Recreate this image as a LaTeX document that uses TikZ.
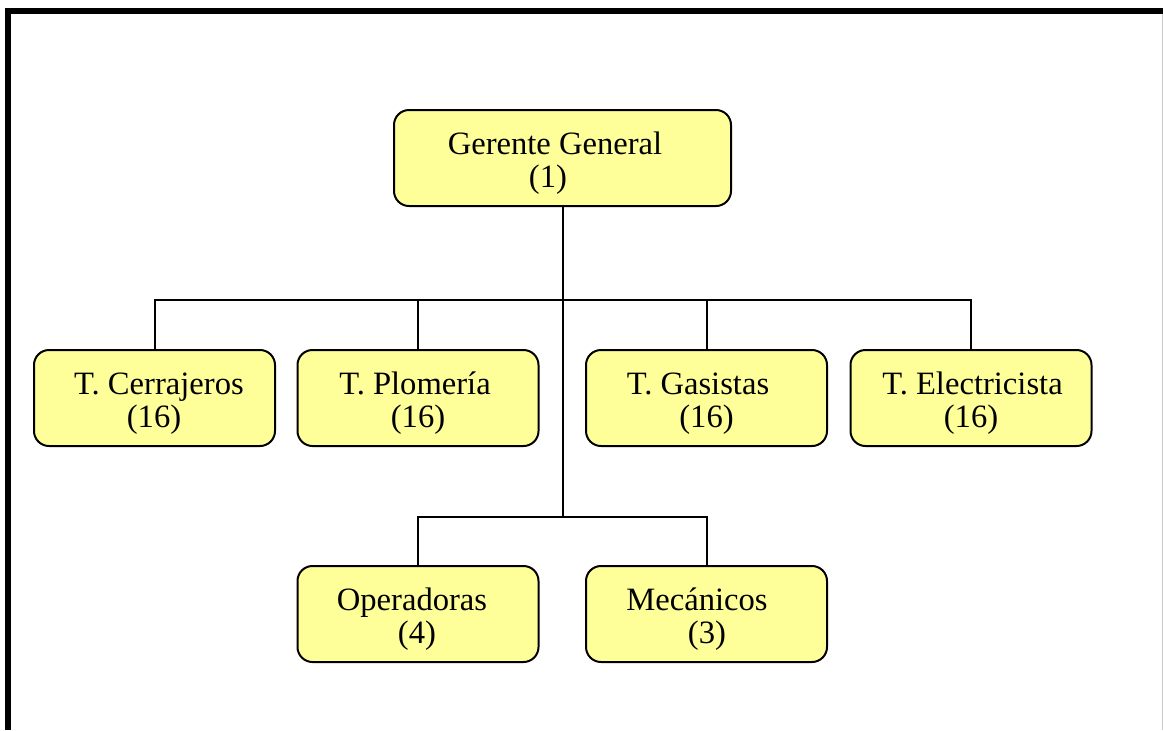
\documentclass[tikz,border=0pt]{standalone}
\usepackage{fontspec}
\setmainfont{Liberation Serif}
\definecolor{boxfill}{RGB}{255,255,153}
\definecolor{edgegray}{RGB}{200,200,200}
\tikzset{
  obox/.style={draw=black, line width=1pt, fill=boxfill, rounded corners=7.5pt,
    minimum width=120.5pt, minimum height=48pt, inner sep=0pt},
  wide/.style={minimum width=168.5pt},
  txt/.style={anchor=base, inner sep=0pt, font=\fontsize{16.3}{18}\selectfont},
  link/.style={draw=black, line width=1pt},
}
\newcommand\orgbox[8]{%
  \node[obox,#8] (#1) at (#2,#3) {};
  \node[txt] (#1-a) at ([xshift=#4*0.5pt, yshift=-22.5pt]#1.north) {#5};
  \node[txt] (#1-b) at ([xshift=#6*0.5pt, yshift=-39pt]#1.north) {#7};
}
\begin{document}
\begin{tikzpicture}[x=0.5pt, y=-0.5pt]
\useasboundingbox (0,0) rectangle (1163,730);
% frame
\fill[black] (5,8) rectangle (1163,14);
\fill[black] (5,8) rectangle (10.7,730);
\draw[edgegray, line width=0.5pt] (1162,14) -- (1162,730);
% boxes
\orgbox{ger}{562.5}{158}{-7.5}{Gerente General}{-14.5}{(1)}{wide}
\orgbox{cer}{154.5}{398}{4.5}{T. Cerrajeros}{-0.5}{(16)}{}
\orgbox{plo}{418}{398}{-3}{T. Plomería}{0}{(16)}{}
\orgbox{gas}{706.5}{398}{-8.5}{T. Gasistas}{0}{(16)}{}
\orgbox{ele}{971}{398}{1.5}{T. Electricista}{0}{(16)}{}
\orgbox{ope}{418}{614}{-6}{Operadoras}{-1}{(4)}{}
\orgbox{mec}{706.5}{614}{-9.5}{Mecánicos}{0.5}{(3)}{}
% connectors
\coordinate (bus) at (562.5,300);
\coordinate (bus2) at (562.5,517);
\draw[link] (ger.south) -- (bus2);
\draw[link] (cer.north) |- (bus) -| (ele.north);
\draw[link] (plo.north) |- (bus);
\draw[link] (gas.north) |- (bus);
\draw[link] (ope.north) |- (bus2) -| (mec.north);
\end{tikzpicture}
\end{document}
